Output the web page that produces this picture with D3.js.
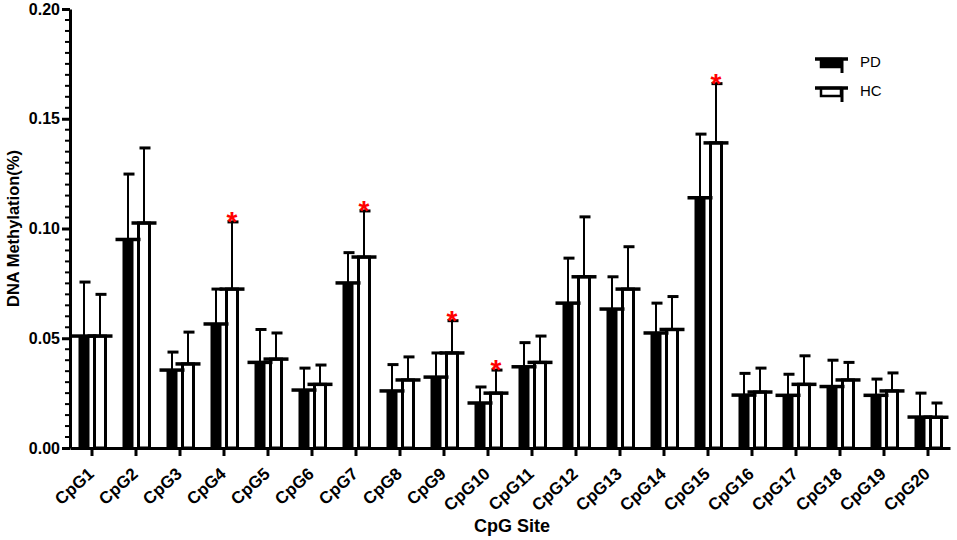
<!DOCTYPE html>
<html>
<head>
<meta charset="utf-8">
<script src="https://cdn.jsdelivr.net/npm/d3@7"></script>
<style>
  body { margin: 0; background: #fff; }
  svg { font-family: "Liberation Sans", Arial, sans-serif; }
</style>
</head>
<body>
<div id="chart"></div>
<script>
// values
const sites = d3.range(1, 21).map(i => "CpG" + i);
const pdMean = [0.051, 0.095, 0.0355, 0.0565, 0.039, 0.0264, 0.0752, 0.026, 0.0323, 0.0205,
                0.037, 0.066, 0.0633, 0.0524, 0.114, 0.0241, 0.024, 0.028, 0.024, 0.0141];
const pdTop  = [0.0756, 0.1248, 0.0437, 0.0724, 0.054, 0.0364, 0.089, 0.038, 0.0433, 0.0278,
                0.048, 0.0865, 0.078, 0.066, 0.143, 0.034, 0.0336, 0.040, 0.0314, 0.025];
const hcMean = [0.051, 0.1025, 0.0383, 0.0724, 0.0405, 0.029, 0.087, 0.031, 0.0433, 0.025,
                0.039, 0.078, 0.0724, 0.054, 0.139, 0.0255, 0.029, 0.031, 0.026, 0.014];
const hcTop  = [0.070, 0.1367, 0.0528, 0.103, 0.0524, 0.0378, 0.108, 0.0415, 0.058, 0.0355,
                0.051, 0.1053, 0.0917, 0.069, 0.166, 0.0364, 0.042, 0.039, 0.0342, 0.0205];
const significant = ["CpG4", "CpG7", "CpG9", "CpG10", "CpG15"];
const yTicks = [0, 0.05, 0.10, 0.15, 0.20];

const width = 957, height = 540;
const margin = { top: 9, right: 7, bottom: 92, left: 70 };

const svg = d3.select("#chart")
    .append("svg")
    .attr("width", width)
    .attr("height", height);

const x = d3.scaleBand()
    .domain(sites)
    .range([margin.left, width - margin.right]);

const y = d3.scaleLinear()
    .domain([0, 0.20])
    .range([height - margin.bottom, margin.top]);

const offset = 8;    // half distance between PD and HC bar centres
const barW = 11;
const meanW = 25;
const capW = 11;

const groups = sites.map((s, i) => ({
    site: s, pdMean: pdMean[i], pdTop: pdTop[i], hcMean: hcMean[i], hcTop: hcTop[i]
}));

const bars = [];
groups.forEach(g => {
    const c = x(g.site) + x.bandwidth() / 2;
    bars.push({ site: g.site, cx: c - offset, mean: g.pdMean, top: g.pdTop, type: "PD" });
    bars.push({ site: g.site, cx: c + offset, mean: g.hcMean, top: g.hcTop, type: "HC" });
});

// error bars (upper only)
svg.selectAll(".err")
    .data(bars)
    .join("line")
    .attr("class", "err")
    .attr("x1", d => d.cx).attr("x2", d => d.cx)
    .attr("y1", d => y(d.mean)).attr("y2", d => y(d.top))
    .attr("stroke", "#000").attr("stroke-width", 2);

svg.selectAll(".cap")
    .data(bars)
    .join("line")
    .attr("class", "cap")
    .attr("x1", d => d.cx - capW / 2 + 1).attr("x2", d => d.cx + capW / 2 + 1)
    .attr("y1", d => y(d.top)).attr("y2", d => y(d.top))
    .attr("stroke", "#000").attr("stroke-width", 3);

// bars
svg.selectAll(".bar")
    .data(bars)
    .join("rect")
    .attr("class", "bar")
    .attr("x", d => d.cx - barW / 2)
    .attr("width", barW)
    .attr("y", d => y(d.mean))
    .attr("height", d => y(0) - y(d.mean))
    .attr("fill", d => d.type === "PD" ? "#000" : "#fff")
    .attr("stroke", "#000")
    .attr("stroke-width", d => d.type === "PD" ? 0 : 3);

// mean lines, wider than the bars
svg.selectAll(".mean")
    .data(bars)
    .join("line")
    .attr("class", "mean")
    .attr("x1", d => d.cx - meanW / 2).attr("x2", d => d.cx + meanW / 2)
    .attr("y1", d => y(d.mean)).attr("y2", d => y(d.mean))
    .attr("stroke", "#000").attr("stroke-width", 3.5);

// significance stars
svg.selectAll(".star")
    .data(bars.filter(d => d.type === "HC" && significant.includes(d.site)))
    .join("text")
    .attr("class", "star")
    .attr("x", d => d.cx)
    .attr("y", d => y(d.top) + 9)
    .attr("text-anchor", "middle")
    .style("font-size", "28px")
    .style("font-weight", "bold")
    .style("fill", "#ff0000")
    .text("*");

// y axis
const yAxis = svg.append("g")
    .attr("transform", `translate(${margin.left},0)`)
    .call(d3.axisLeft(y).tickValues(yTicks).tickFormat(d3.format(".2f")).tickSize(8).tickSizeOuter(0));
yAxis.select(".domain").attr("stroke-width", 3);
yAxis.selectAll(".tick line").attr("stroke-width", 3);
yAxis.selectAll(".tick text")
    .attr("x", -10)
    .style("font-size", "16px")
    .style("font-weight", "bold")
    .style("font-family", "'Liberation Sans', Arial, sans-serif")
    .attr("fill", "#000");

// minor ticks every 0.005
svg.append("g")
    .selectAll("line")
    .data(d3.range(0, 41).map(i => i * 0.005).filter((v, i) => i % 10 !== 0))
    .join("line")
    .attr("x1", margin.left - 5).attr("x2", margin.left)
    .attr("y1", d => y(d)).attr("y2", d => y(d))
    .attr("stroke", "#000").attr("stroke-width", 2);

// x axis
const xAxis = svg.append("g")
    .attr("transform", `translate(0,${y(0)})`)
    .call(d3.axisBottom(x).tickSize(8).tickSizeOuter(0));
xAxis.select(".domain").attr("stroke-width", 3);
xAxis.selectAll(".tick line").attr("stroke-width", 3);
xAxis.selectAll(".tick text")
    .attr("transform", "translate(-1,23) rotate(-42)")
    .attr("text-anchor", "end")
    .attr("dy", "0.35em")
    .attr("y", 0).attr("x", 0)
    .style("font-size", "17px")
    .style("font-weight", "bold")
    .style("font-family", "'Liberation Sans', Arial, sans-serif")
    .attr("fill", "#000");

// axis titles
svg.append("text")
    .attr("x", 512)
    .attr("y", 532)
    .attr("text-anchor", "middle")
    .style("font-size", "18px")
    .style("font-weight", "bold")
    .text("CpG Site");

svg.append("text")
    .attr("transform", `translate(19,${(y(0) + y(0.2)) / 2}) rotate(-90)`)
    .attr("text-anchor", "middle")
    .style("font-size", "16.5px")
    .style("font-weight", "bold")
    .text("DNA Methylation(%)");

// legend
const legend = svg.append("g").attr("transform", "translate(815,58)");
const legendItems = [{ label: "PD", fill: "#000" }, { label: "HC", fill: "#fff" }];
const li = legend.selectAll("g")
    .data(legendItems)
    .join("g")
    .attr("transform", (d, i) => `translate(0,${i * 29})`);
li.append("rect")
    .attr("x", 6).attr("y", 1).attr("width", 20).attr("height", 8)
    .attr("fill", d => d.fill).attr("stroke", "#000").attr("stroke-width", 2.5);
li.append("line")
    .attr("x1", 0).attr("x2", 33).attr("y1", 1).attr("y2", 1)
    .attr("stroke", "#000").attr("stroke-width", 3.5);
li.append("line")
    .attr("x1", 27).attr("x2", 27).attr("y1", 1).attr("y2", 15)
    .attr("stroke", "#000").attr("stroke-width", 3);
li.append("text")
    .attr("x", 45).attr("y", 9)
    .style("font-size", "15px")
    .text(d => d.label);
</script>
</body>
</html>
